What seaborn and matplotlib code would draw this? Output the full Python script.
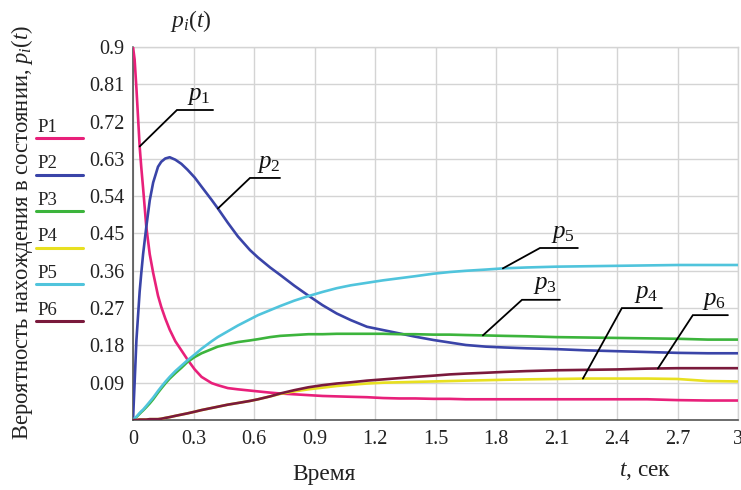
import numpy as np
import pandas as pd
import matplotlib
matplotlib.use("Agg")
import matplotlib.pyplot as plt
from matplotlib.lines import Line2D
import seaborn as sns

# ---------------- data ----------------
t = [0, 0.008, 0.017, 0.033, 0.041, 0.05, 0.066, 0.083, 0.1, 0.124, 0.14, 0.16, 0.182, 0.21,
     0.24, 0.27, 0.306, 0.34, 0.39, 0.42, 0.47, 0.52, 0.58, 0.62, 0.68, 0.73, 0.8, 0.87, 0.94,
     1.01, 1.08, 1.16, 1.24, 1.32, 1.4, 1.49, 1.57, 1.65, 1.75, 1.84, 1.95, 2.1, 2.25, 2.4,
     2.55, 2.7, 2.85, 3.0]
p1 = [0.9, 0.87, 0.80, 0.66, 0.61, 0.56, 0.466, 0.40, 0.355, 0.30, 0.273, 0.245, 0.218, 0.19,
      0.168, 0.146, 0.122, 0.104, 0.089, 0.084, 0.077, 0.074, 0.071, 0.069, 0.066, 0.064, 0.062, 0.06, 0.058,
      0.057, 0.056, 0.055, 0.053, 0.052, 0.052, 0.051, 0.051, 0.05, 0.05, 0.05, 0.05, 0.05, 0.05, 0.05,
      0.05, 0.048, 0.047, 0.047]
p2 = [0.0, 0.09, 0.193, 0.31, 0.354, 0.40, 0.466, 0.53, 0.573, 0.611, 0.623, 0.631, 0.634, 0.628,
      0.618, 0.604, 0.585, 0.563, 0.531, 0.511, 0.476, 0.443, 0.41, 0.392, 0.368, 0.35, 0.324, 0.3, 0.277,
      0.257, 0.241, 0.225, 0.217, 0.209, 0.201, 0.193, 0.187, 0.181, 0.177, 0.175, 0.173, 0.171, 0.168, 0.166,
      0.164, 0.162, 0.161, 0.161]
p3 = [0.0, 0.003, 0.007, 0.015, 0.019, 0.023, 0.031, 0.04, 0.05, 0.066, 0.076, 0.088, 0.1, 0.113,
      0.126, 0.14, 0.152, 0.161, 0.171, 0.177, 0.183, 0.188, 0.192, 0.195, 0.2, 0.203, 0.205, 0.207, 0.207,
      0.208, 0.208, 0.208, 0.208, 0.207, 0.207, 0.206, 0.206, 0.205, 0.204, 0.203, 0.202, 0.2, 0.199, 0.198,
      0.197, 0.196, 0.194, 0.194]
p4 = [0.0, 0.0, 0.0, 0.001, 0.001, 0.001, 0.001, 0.002, 0.002, 0.002, 0.003, 0.005, 0.007, 0.01,
      0.013, 0.016, 0.02, 0.024, 0.029, 0.032, 0.037, 0.041, 0.046, 0.05, 0.057, 0.063, 0.069, 0.074, 0.078,
      0.082, 0.085, 0.088, 0.09, 0.091, 0.092, 0.093, 0.094, 0.095, 0.096, 0.097, 0.098, 0.099, 0.1, 0.1,
      0.1, 0.099, 0.094, 0.093]
p5 = [0.0, 0.004, 0.008, 0.017, 0.021, 0.025, 0.034, 0.044, 0.054, 0.07, 0.08, 0.092, 0.104, 0.118,
      0.131, 0.144, 0.158, 0.172, 0.19, 0.2, 0.214, 0.228, 0.243, 0.253, 0.265, 0.275, 0.288, 0.299, 0.309,
      0.318, 0.325, 0.331, 0.337, 0.342, 0.347, 0.353, 0.357, 0.36, 0.363, 0.366, 0.368, 0.37, 0.371, 0.372,
      0.373, 0.374, 0.374, 0.374]
p6 = [0.0, 0.0, 0.0, 0.001, 0.001, 0.001, 0.001, 0.002, 0.002, 0.002, 0.003, 0.005, 0.007, 0.01,
      0.013, 0.016, 0.02, 0.024, 0.029, 0.032, 0.037, 0.041, 0.046, 0.05, 0.057, 0.064, 0.072, 0.079, 0.084,
      0.088, 0.091, 0.095, 0.098, 0.101, 0.104, 0.107, 0.11, 0.112, 0.114, 0.116, 0.118, 0.12, 0.121, 0.122,
      0.124, 0.125, 0.125, 0.125]

series_names = ["P1", "P2", "P3", "P4", "P5", "P6"]
series_vals = [p1, p2, p3, p4, p5, p6]
colors = ["#e8207a", "#3a44a8", "#3cb43c", "#e8e020", "#50c4dc", "#7a1a3c"]

xticks = [0, 0.3, 0.6, 0.9, 1.2, 1.5, 1.8, 2.1, 2.4, 2.7, 3.0]
xtick_labels = ["0", "0.3", "0.6", "0.9", "1.2", "1.5", "1.8", "2.1", "2.4", "2.7", "3"]
yticks = [0.09, 0.18, 0.27, 0.36, 0.45, 0.54, 0.63, 0.72, 0.81, 0.9]
ytick_labels = ["0.09", "0.18", "0.27", "0.36", "0.45", "0.54", "0.63", "0.72", "0.81", "0.9"]

# callout labels: (text, series index, point t, elbow t, elbow y, end t)
callouts = [
    ("1", 0, 0.033, 0.218, 0.748, 0.397),
    ("2", 1, 0.421, 0.58, 0.584, 0.729),
    ("5", 4, 1.834, 2.018, 0.415, 2.206),
    ("3", 2, 1.735, 1.929, 0.29, 2.117),
    ("4", 3, 2.231, 2.424, 0.27, 2.623),
    ("6", 5, 2.603, 2.776, 0.253, 2.95),
]

# ---------------- style ----------------
sns.set_theme(style="white")
plt.rcParams["font.family"] = ["Liberation Serif", "DejaVu Serif"]
plt.rcParams["mathtext.fontset"] = "custom"
plt.rcParams["mathtext.rm"] = "Liberation Serif"
plt.rcParams["mathtext.it"] = "Liberation Serif:italic"

W, H = 741, 490
fig = plt.figure(figsize=(W / 100, H / 100), dpi=100)
fig.patch.set_facecolor("white")
ax = fig.add_axes([133 / W, 1 - 420 / H, (738 - 133) / W, (420 - 47) / H])

rows = []
for name, vals in zip(series_names, series_vals):
    for tt, v in zip(t, vals):
        rows.append((name, tt, v))
df = pd.DataFrame(rows, columns=["series", "t", "p"])

sns.lineplot(data=df, x="t", y="p", hue="series", hue_order=series_names,
             palette=colors, estimator=None, sort=False, legend=False,
             linewidth=1.9, ax=ax, zorder=3)

ax.set_xlim(0, 3)
ax.set_ylim(0, 0.9)
ax.set_xticks(xticks)
ax.set_xticklabels(xtick_labels)
ax.set_yticks(yticks)
ax.set_yticklabels(ytick_labels)
ax.grid(True, color="#d4d4d4", linewidth=1.0)
ax.set_axisbelow(True)
ax.tick_params(axis="x", direction="inout", length=7, width=1, color="#444444",
               labelsize=14.5, pad=4, labelcolor="#222222")
ax.tick_params(axis="y", direction="out", length=4, width=1, color="#444444",
               labelsize=14.5, pad=2, labelcolor="#222222")
for side in ["left", "bottom"]:
    ax.spines[side].set_color("#444444")
    ax.spines[side].set_linewidth(1.1)
for side in ["top", "right"]:
    ax.spines[side].set_color("#d4d4d4")
    ax.spines[side].set_linewidth(1.0)
ax.set_xlabel("")
ax.set_ylabel("")

# callouts
for lab, si, tp, te, ye, tend in callouts:
    yp = float(np.interp(tp, t, series_vals[si]))
    ax.plot([tp, te, tend], [yp, ye, ye], color="black", linewidth=1.3, zorder=4,
            solid_joinstyle="miter")
    ax.text((te + tend) / 2 + 0.02, ye + 0.008, r"$p_{\mathrm{" + lab + "}}$",
            fontsize=18, ha="center", va="bottom", color="#111111", zorder=5)

# legend at the left
for i, (name, c) in enumerate(zip(series_names, colors)):
    ytxt = 127 + i * 36.6
    yline = 138 + i * 36.6
    fig.text(37 / W, 1 - ytxt / H, name, fontsize=13.5, ha="left", va="center", color="#222222")
    fig.add_artist(Line2D([36 / W, 83 / W], [1 - yline / H, 1 - yline / H],
                          color=c, linewidth=2.2, transform=fig.transFigure))

# axis texts
fig.text(22 / W, 1 - 232 / H, "Вероятность нахождения в состоянии, $p_{i}(t)$",
         rotation=90, fontsize=16.3, ha="center", va="center", color="#222222")
fig.text(191 / W, 1 - 21 / H, "$p_{i}(t)$", fontsize=17, ha="center", va="center", color="#222222")
fig.text(324 / W, 1 - 474 / H, "Время", fontsize=16.8, ha="center", va="center", color="#222222")
fig.text(645 / W, 1 - 471 / H, "$t$, сек", fontsize=16.8, ha="center", va="center", color="#222222")

fig.savefig("out.png", dpi=100, facecolor="white")
